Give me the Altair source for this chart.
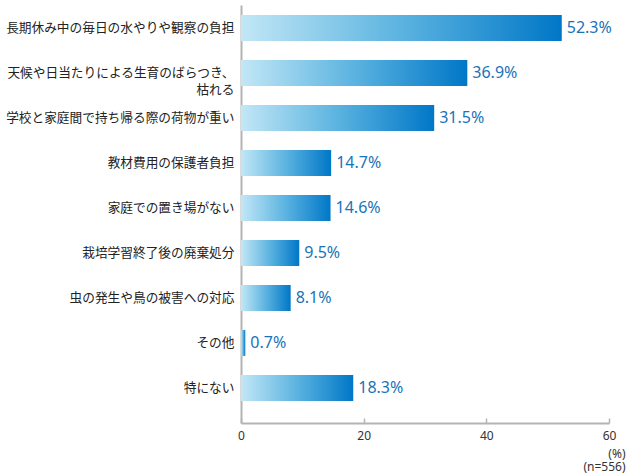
import altair as alt
import pandas as pd

categories = [
    "長期休み中の毎日の水やりや観察の負担",
    "天候や日当たりによる生育のばらつき、\n枯れる",
    "学校と家庭間で持ち帰る際の荷物が重い",
    "教材費用の保護者負担",
    "家庭での置き場がない",
    "栽培学習終了後の廃棄処分",
    "虫の発生や鳥の被害への対応",
    "その他",
    "特にない",
]
values = [52.3, 36.9, 31.5, 14.7, 14.6, 9.5, 8.1, 0.7, 18.3]
x_ticks = [0, 20, 40, 60]

df = pd.DataFrame({"cat": categories, "value": values})
df["label"] = [f"{v:.1f}%" for v in values]

W, H = 368, 418

grad = alt.Gradient(
    gradient="linear",
    stops=[
        alt.GradientStop(color="#c2e7f6", offset=0),
        alt.GradientStop(color="#5bb3e0", offset=0.5),
        alt.GradientStop(color="#0077c7", offset=1),
    ],
    x1=0, x2=1, y1=0, y2=0,
)

yscale = alt.Scale(domain=categories, paddingInner=0.422, paddingOuter=0.3556, align=0.31)
xscale = alt.Scale(domain=[0, 60], nice=False, zero=True)

yaxis = alt.Axis(title=None, ticks=False, domain=True, domainColor="#b4b4b4",
                 domainWidth=2, labelFont="Noto Sans CJK JP", labelFontSize=12.7,
                 labelColor="#222222", labelPadding=7, labelLimit=300,
                 labelLineHeight=17.5,
                 labelExpr="split(datum.label, '\\n')")

base = alt.Chart(df)

bars = base.mark_bar(color=grad).encode(
    x=alt.X("value:Q", scale=xscale,
            axis=alt.Axis(values=x_ticks, grid=False, ticks=False, domain=True,
                          domainColor="#b4b4b4", domainWidth=2,
                          labelFont="Noto Sans", labelFontSize=12, labelColor="#333333",
                          labelPadding=7, labelFlush=False,
                          title=["(%)", "(n=556)"], titleAlign="right", titleX=W + 16,
                          titleY=25, titleBaseline="top", titleFont="Noto Sans",
                          titleFontSize=12, titleFontWeight="normal", titleColor="#333333",
                          titleLineHeight=13.5)),
    y=alt.Y("cat:N", sort=categories, scale=yscale, axis=yaxis),
)

texts = base.mark_text(align="left", baseline="middle", dx=5, font="Noto Sans",
                       fontSize=16, color="#1874b8").encode(
    x=alt.X("value:Q", scale=xscale,
            axis=alt.Axis(values=x_ticks, orient="bottom", offset=-5, domain=False,
                          labels=False, ticks=True, tickSize=5, tickColor="#b4b4b4",
                          tickWidth=1.5, grid=False, title=None)),
    y=alt.Y("cat:N", sort=categories, scale=yscale, axis=yaxis),
    text="label:N",
)

chart = alt.layer(bars, texts).resolve_axis(x="independent").properties(
    width=W, height=H,
    autosize=alt.AutoSizeParams(type="none"),
    padding={"left": 241, "top": 5, "right": 17, "bottom": 53},
).configure_view(stroke=None)

chart.save("out.html", embed_options={"renderer": "svg", "actions": False})
